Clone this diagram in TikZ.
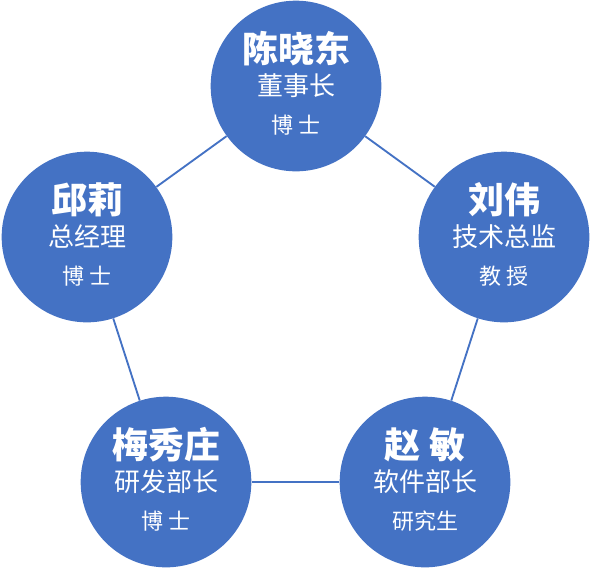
\documentclass[tikz,border=0pt]{standalone}
\usepackage{fontspec}
\setmainfont{Noto Sans CJK SC}
\usepackage{tikz}
\usetikzlibrary{positioning}

\definecolor{boxblue}{HTML}{4472C4}
\newcommand{\member}[3]{{\fontsize{27}{27}\selectfont\bfseries #1}\\[5pt]{\fontsize{19.5}{22}\selectfont #2}\\[12pt]{\fontsize{16.5}{20}\selectfont #3}}

\begin{document}
\begin{tikzpicture}[x=0.75pt,y=-0.75pt,
  person/.style={circle,fill=boxblue,draw=none,minimum size=128pt,inner sep=0pt,
    text=white,align=center,text depth=5.5pt},
  link/.style={draw=boxblue,line width=1.4pt}]
  \useasboundingbox (0,0) rectangle (591,569);
  \node[person] (chen) at (296,86)  {\member{陈晓东}{董事长}{博 士}};
  \node[person] (liu)  at (504,237) {\member{刘伟}{技术总监}{教 授}};
  \node[person] (zhao) at (425,482) {\member{赵 敏}{软件部长}{研究生}};
  \node[person] (mei)  at (166,482) {\member{梅秀庄}{研发部长}{博 士}};
  \node[person] (qiu)  at (87,237)  {\member{邱莉}{总经理}{博 士}};

  \path[link]
        (chen) edge (liu)
        (liu)  edge (zhao)
        (zhao) edge (mei)
        (mei)  edge (qiu)
        (qiu)  edge (chen)
              ;
\end{tikzpicture}
\end{document}
